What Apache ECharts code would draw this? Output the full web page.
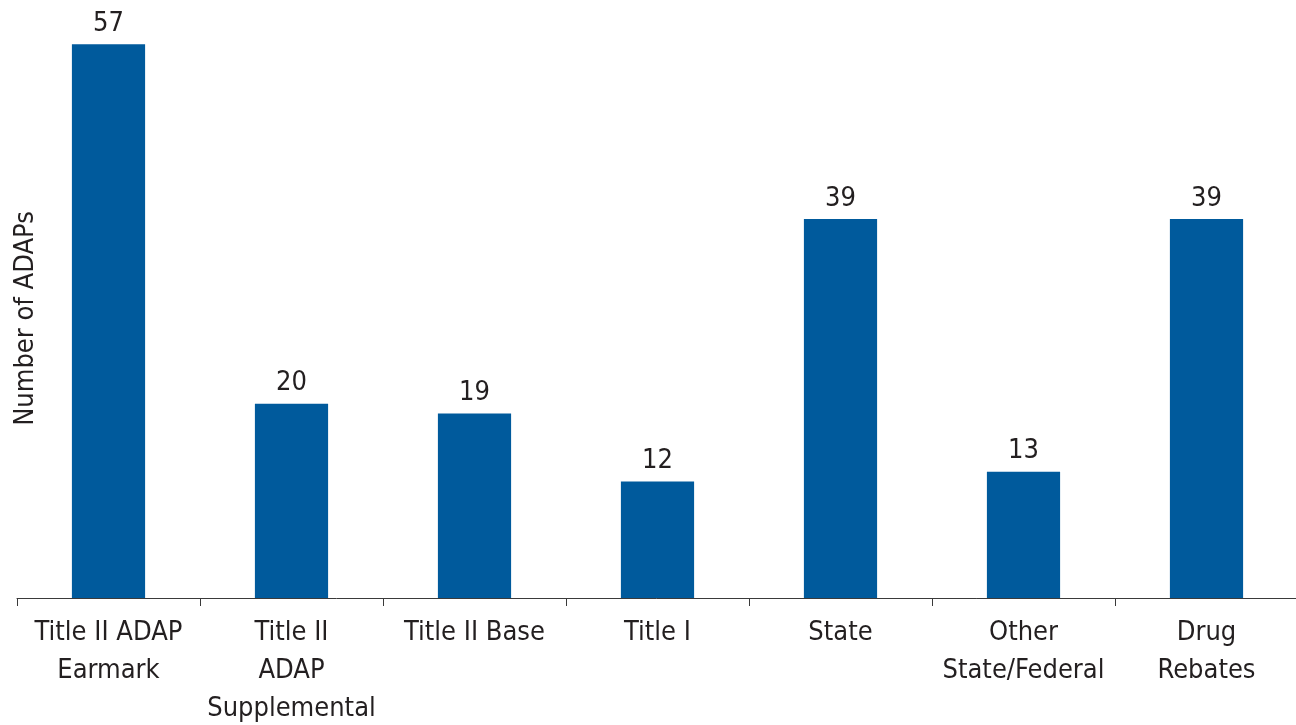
<!DOCTYPE html>
<html>
<head>
<meta charset="utf-8">
<title>Number of ADAPs</title>
<script src="https://cdn.jsdelivr.net/npm/echarts@6/dist/echarts.min.js"></script>
<style>
  html, body { margin: 0; padding: 0; background: #fff; }
  #chartDiv { width: 1296px; height: 725px; }
</style>
</head>
<body>
<div id="chartDiv"></div>
<script>
// data
var categories = ['Title II ADAP\nEarmark', 'Title II\nADAP\nSupplemental', 'Title II Base', 'Title I', 'State', 'Other\nState/Federal', 'Drug\nRebates'];
var adapCounts = [57, 20, 19, 12, 39, 13, 39];

var fontName = '"DejaVu Sans Condensed", "Liberation Sans Narrow", sans-serif';

var myChart = echarts.init(document.getElementById('chartDiv'));

var option = {
    animation: false,
    grid: {
        left: 17,
        right: -2,
        top: 15,
        bottom: 127,
        containLabel: false,
        outerBoundsMode: 'none'
    },
    xAxis: [{
        type: 'category',
        data: categories,
        axisLine: {
            show: true,
            lineStyle: { color: '#3a3a3a', width: 1 }
        },
        axisTick: {
            show: true,
            length: 8,
            lineStyle: { color: '#3a3a3a', width: 1 }
        },
        axisLabel: {
            interval: 0,
            margin: 16,
            color: '#231f20',
            fontFamily: fontName,
            fontSize: 27,
            lineHeight: 38
        }
    }],
    yAxis: [{
        type: 'value',
        min: 0,
        max: 60,
        name: 'Number of ADAPs',
        nameLocation: 'middle',
        nameGap: -22,
        nameTextStyle: {
            color: '#231f20',
            fontFamily: fontName,
            fontSize: 27,
            padding: [0, 24, 0, 0]
        },
        axisLine: { show: false },
        axisTick: { show: false },
        axisLabel: { show: false },
        splitLine: { show: false }
    }],
    series: [{
        name: 'Number of ADAPs',
        type: 'bar',
        barWidth: '40%',
        itemStyle: { color: '#005a9c' },
        label: {
            show: true,
            position: 'top',
            distance: 7,
            color: '#231f20',
            fontFamily: fontName,
            fontSize: 27
        },
        data: adapCounts
    }]
};

myChart.setOption(option);
</script>
</body>
</html>
